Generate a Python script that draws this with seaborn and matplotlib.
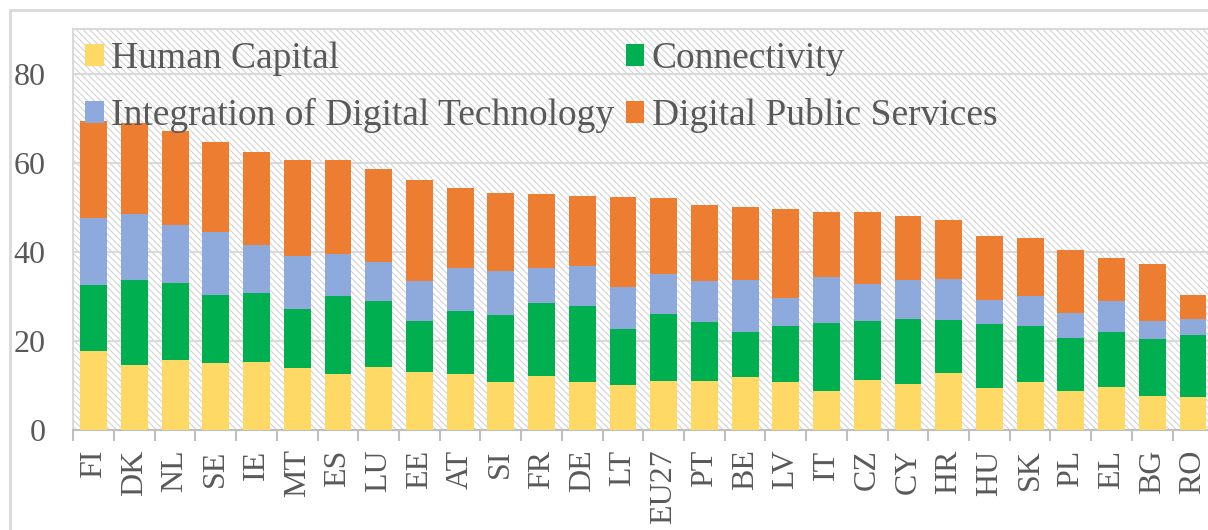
"""Stacked DESI-style bar chart: four dimension scores per country."""

import matplotlib

matplotlib.use("Agg")

import matplotlib.pyplot as plt  # noqa: E402
import pandas as pd  # noqa: E402
import seaborn as sns  # noqa: E402
from matplotlib.lines import Line2D  # noqa: E402
from matplotlib.patches import Rectangle  # noqa: E402

countries = ["FI", "DK", "NL", "SE", "IE", "MT", "ES", "LU", "EE", "AT", "SI",
             "FR", "DE", "LT", "EU27", "PT", "BE", "LV", "IT", "CZ", "CY",
             "HR", "HU", "SK", "PL", "EL", "BG", "RO"]
human_capital = [17.7, 14.5, 15.6, 15.0, 15.3, 13.9, 12.5, 14.1, 13.1, 12.5,
                 10.8, 12.2, 10.8, 10.2, 11.1, 11.1, 11.9, 10.8, 8.8, 11.2,
                 10.3, 12.8, 9.4, 10.8, 8.8, 9.7, 7.7, 7.4]
connectivity = [14.9, 19.2, 17.5, 15.2, 15.5, 13.3, 17.5, 14.9, 11.3, 14.1,
                15.1, 16.2, 17.0, 12.5, 15.0, 13.1, 10.0, 12.5, 15.3, 13.2,
                14.6, 11.8, 14.4, 12.5, 11.9, 12.4, 12.7, 13.9]
integration = [14.9, 14.7, 13.0, 14.3, 10.8, 11.9, 9.6, 8.7, 9.0, 9.7,
               9.8, 7.9, 9.0, 9.3, 9.0, 9.2, 11.8, 6.4, 10.2, 8.4,
               8.8, 9.4, 5.4, 6.7, 5.6, 6.9, 4.0, 3.7]
public_services = [21.8, 20.5, 20.9, 20.2, 20.9, 21.4, 20.9, 20.8, 22.8, 18.0,
                   17.4, 16.6, 15.8, 20.3, 16.9, 17.0, 16.4, 19.8, 14.6, 16.1,
                   14.3, 13.2, 14.4, 13.0, 14.0, 9.5, 12.9, 5.2]

series = ["Human Capital", "Connectivity",
          "Integration of Digital Technology", "Digital Public Services"]
colors = ["#FFD966", "#00B050", "#8EA9DB", "#ED7D31"]

TEXT = "#595959"
GRID = "#D9D9D9"

sns.set_theme(style="white")
plt.rcParams["font.family"] = ["Liberation Serif", "DejaVu Serif"]
plt.rcParams["hatch.linewidth"] = 0.7

df = pd.DataFrame({"country": countries, "hc": human_capital,
                   "conn": connectivity, "idt": integration,
                   "dps": public_services})
# cumulative tops, drawn tallest first so each segment overlays the next
df["c1"] = df["hc"]
df["c2"] = df["c1"] + df["conn"]
df["c3"] = df["c2"] + df["idt"]
df["c4"] = df["c3"] + df["dps"]

fig = plt.figure(figsize=(12.08, 5.30), dpi=100)
ax = fig.add_axes([73.3 / 1208, 1 - 430 / 530, 1140 / 1208, 401 / 530])

# hatched plot-area background
ax.add_patch(Rectangle((0, 0), 1, 1, transform=ax.transAxes, facecolor="white",
                       edgecolor="#CFCFCF", hatch="\\\\\\\\\\", linewidth=0,
                       zorder=0))

for col, color in zip(["c4", "c3", "c2", "c1"], colors[::-1]):
    sns.barplot(data=df, x="country", y=col, color=color, saturation=1,
                width=0.66, ax=ax, zorder=3, linewidth=0)

ax.set_ylim(0, 90)
ax.set_xlim(-0.5, len(countries) - 0.5)
ax.set_yticks([0, 20, 40, 60, 80])
for v in [20, 40, 60, 80]:
    ax.axhline(v, color=GRID, lw=1.5, zorder=1)
ax.set_xlabel("")
ax.set_ylabel("")

ax.tick_params(axis="y", length=0, pad=20, labelsize=23, labelcolor=TEXT)
ax.tick_params(axis="x", which="major", length=0, pad=14, labelsize=23,
               labelcolor=TEXT, labelrotation=90)
ax.set_xticks([i - 0.5 for i in range(len(countries) + 1)], minor=True)
ax.tick_params(axis="x", which="minor", length=8, width=1.5, color="#BFBFBF",
               direction="out", bottom=True)
for lab in ax.get_xticklabels():
    lab.set_verticalalignment("top")

for side in ["left", "right", "top"]:
    ax.spines[side].set_color(GRID)
    ax.spines[side].set_linewidth(1.5)
ax.spines["bottom"].set_color("#BFBFBF")
ax.spines["bottom"].set_linewidth(1.5)

handles = [Rectangle((0, 0), 1, 1, facecolor=c, linewidth=0) for c in colors]
order = [0, 2, 1, 3]
ax.legend([handles[i] for i in order], [series[i] for i in order], ncol=2,
          loc="upper left", bbox_to_anchor=(-0.003, 1.005), frameon=False,
          fontsize=27, labelcolor=TEXT, handlelength=0.5, handleheight=0.5,
          handletextpad=0.2, columnspacing=0.3, labelspacing=0.58,
          borderaxespad=0)

# outer chart-area border (top and left edges visible)
fig.add_artist(Line2D([10 / 1208, 1], [1 - 10 / 530, 1 - 10 / 530],
                      color=GRID, lw=2, transform=fig.transFigure))
fig.add_artist(Line2D([10 / 1208, 10 / 1208], [0, 1 - 10 / 530],
                      color=GRID, lw=2, transform=fig.transFigure))

fig.savefig("out.png", dpi=100)
